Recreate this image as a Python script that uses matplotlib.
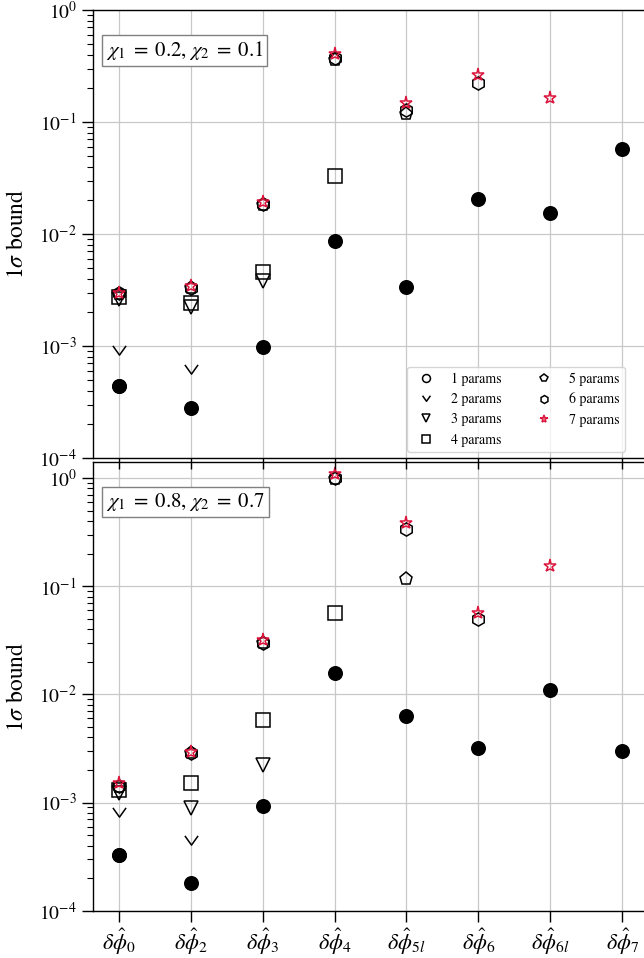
import numpy as np
import matplotlib
matplotlib.use("Agg")
import matplotlib.pyplot as plt
from matplotlib.path import Path

plt.rcParams['font.family'] = ['STIXGeneral', 'DejaVu Serif']
plt.rcParams['mathtext.fontset'] = 'stix'

categories = [r'$\delta\hat{\phi}_0$', r'$\delta\hat{\phi}_2$', r'$\delta\hat{\phi}_3$',
              r'$\delta\hat{\phi}_4$', r'$\delta\hat{\phi}_{5l}$', r'$\delta\hat{\phi}_6$',
              r'$\delta\hat{\phi}_{6l}$', r'$\delta\hat{\phi}_7$']

# top panel: chi1 = 0.2, chi2 = 0.1
indiv_top = [4.35e-4, 2.77e-4, 9.7e-4, 8.7e-3, 3.35e-3, 2.04e-2, 1.53e-2, 5.7e-2]
p1_top = [4.35e-4]
p2_top = [9.3e-4, 6.2e-4]
p3_top = [2.65e-3, 2.25e-3, 3.8e-3]
p4_top = [2.75e-3, 2.4e-3, 4.6e-3, 3.3e-2]
p5_top = [2.9e-3, 3.3e-3, 1.8e-2, 0.36, 0.118]
p6_top = [2.95e-3, 3.3e-3, 1.85e-2, 0.37, 0.127, 0.222]
p7_top = [3.0e-3, 3.45e-3, 1.95e-2, 0.405, 0.148, 0.265, 0.165]

# bottom panel: chi1 = 0.8, chi2 = 0.7
indiv_bot = [3.25e-4, 1.82e-4, 9.2e-4, 1.57e-2, 6.3e-3, 3.2e-3, 1.1e-2, 3.0e-3]
p1_bot = [3.25e-4]
p2_bot = [8.2e-4, 4.5e-4]
p3_bot = [1.22e-3, 8.9e-4, 2.23e-3]
p4_bot = [1.3e-3, 1.51e-3, 5.8e-3, 5.7e-2]
p5_bot = [1.4e-3, 2.85e-3, 3.0e-2, 0.98, 0.117]
p6_bot = [1.42e-3, 2.85e-3, 3.0e-2, 0.99, 0.335, 0.0495]
p7_bot = [1.5e-3, 2.95e-3, 3.2e-2, 1.1, 0.38, 0.057, 0.154]

labels = ['1 params', '2 params', '3 params', '4 params', '5 params', '6 params', '7 params']

vee = Path([(-1, 0.7), (0, -0.7), (1, 0.7)], [Path.MOVETO, Path.LINETO, Path.LINETO])
markers = ['o', vee, 'v', 's', 'p', 'h', '*']
colors = ['k', 'k', 'k', 'k', 'k', 'k', 'crimson']
ms = 9.5


def draw_panel(ax, indiv, series, text, ylim):
    x = np.arange(len(categories))
    for i, vals in enumerate(series):
        ax.plot(x[:len(vals)], vals, marker=markers[i], ls='none', ms=ms,
                mfc='none', mec=colors[i], mew=1.1, label=labels[i], zorder=3)
    # single-parameter bounds drawn on top
    ax.plot(x, indiv, 'o', color='k', ms=ms, mew=1.3, ls='none', zorder=4)
    ax.set_yscale('log')
    ax.set_ylim(*ylim)
    ax.set_xlim(-0.357, 7.357)
    ax.set_xticks(x)
    ax.grid(True, color='#c8c8c8', lw=0.9, zorder=0)
    ax.set_axisbelow(True)
    ax.tick_params(which='major', direction='out', length=8, width=1, labelsize=14)
    ax.tick_params(which='minor', direction='out', length=4, width=0.8)
    ax.set_ylabel(r'$1\sigma$ bound', fontsize=17, labelpad=8)
    ax.text(0.023, 0.935, text, transform=ax.transAxes, fontsize=15, va='top', ha='left',
            bbox=dict(boxstyle='square,pad=0.2', fc='white', ec='gray', lw=1))
    for s in ax.spines.values():
        s.set_linewidth(1)


fig = plt.figure(figsize=(6.44, 9.58), dpi=100)
ax2 = fig.add_axes([93 / 644, 47.3 / 958, 555 / 644, 448.7 / 958])
ax1 = fig.add_axes([93 / 644, 500 / 958, 555 / 644, 448 / 958])

draw_panel(ax1, indiv_top, [p1_top, p2_top, p3_top, p4_top, p5_top, p6_top, p7_top],
           r'$\chi_1\;=\;0.2$, $\chi_2\;=\;0.1$', (1e-4, 1e0))
draw_panel(ax2, indiv_bot, [p1_bot, p2_bot, p3_bot, p4_bot, p5_bot, p6_bot, p7_bot],
           r'$\chi_1\;=\;0.8$, $\chi_2\;=\;0.7$', (1e-4, 1.406))

ax1.set_xticklabels([])
ax2.set_xticklabels(categories, fontsize=16)
ax1.legend(ncol=2, fontsize=10, markerscale=0.6, loc='lower right',
           bbox_to_anchor=(0.958, 0.013), borderaxespad=0)

fig.savefig('out.png', dpi=100)
